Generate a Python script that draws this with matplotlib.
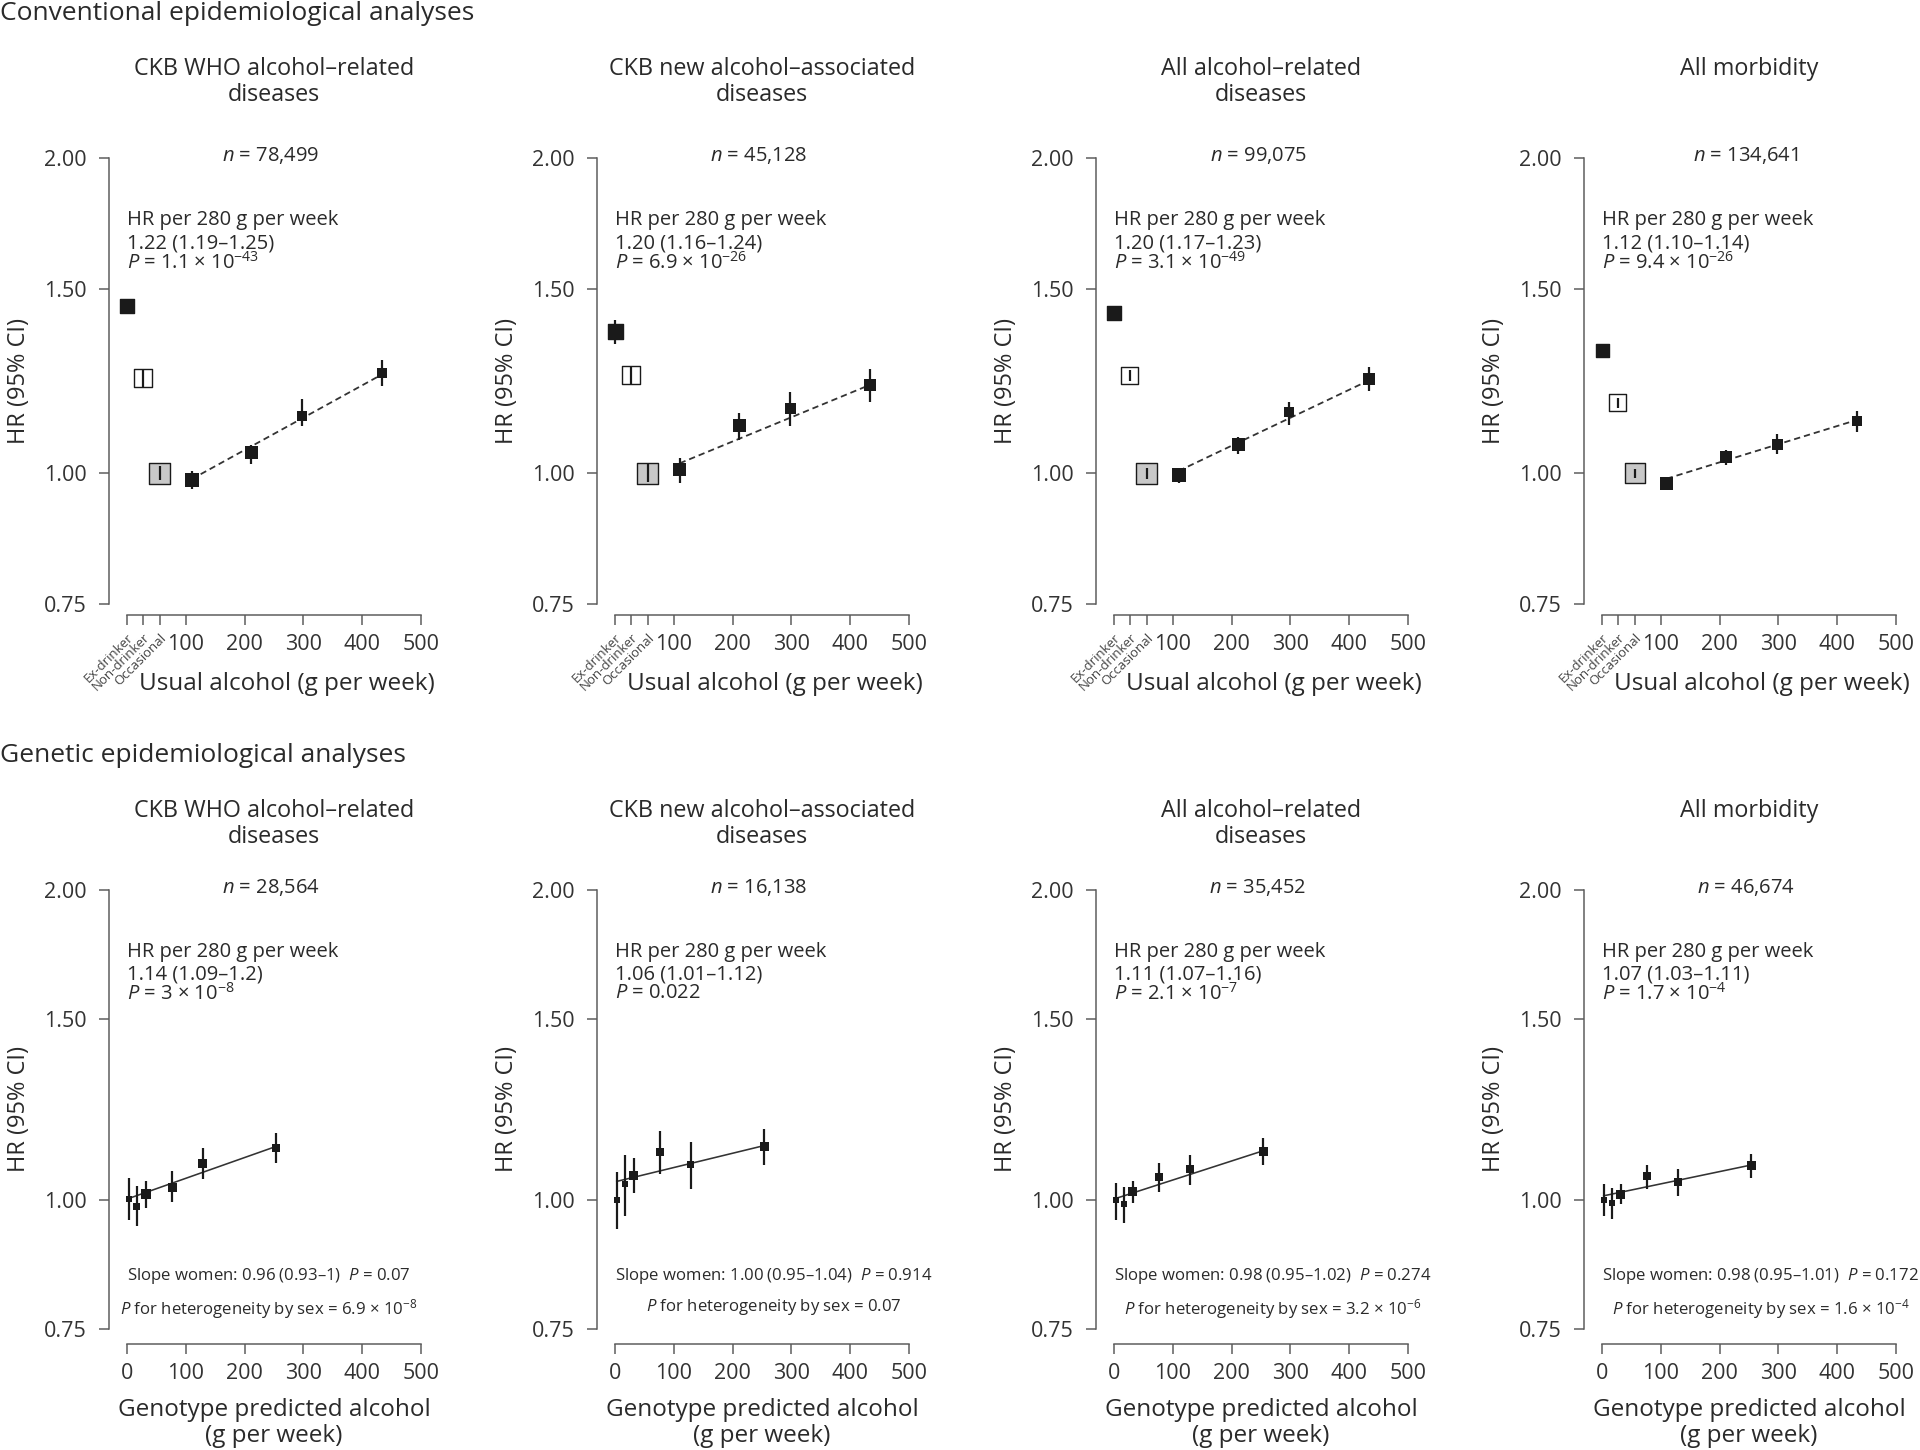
import numpy as np
import matplotlib
matplotlib.use('Agg')
import matplotlib.pyplot as plt
from matplotlib.path import Path
from matplotlib.ticker import NullLocator, NullFormatter, FixedLocator, FixedFormatter

FONT = 'Open Sans'
plt.rcParams['font.family'] = [FONT, 'DejaVu Sans']
plt.rcParams['mathtext.fontset'] = 'custom'
plt.rcParams['mathtext.rm'] = FONT
plt.rcParams['mathtext.it'] = FONT + ':italic'
plt.rcParams['axes.unicode_minus'] = True

# ---------------- data ----------------
titles = ["CKB WHO alcohol–related\ndiseases",
          "CKB new alcohol–associated\ndiseases",
          "All alcohol–related\ndiseases",
          "All morbidity"]

# conventional analyses
cat_pos = [0, 27, 56]
cat_labels = ['Ex-drinker', 'Non-drinker', 'Occasional']
conv_x = [110, 211, 298, 433]
conv_n = ["78,499", "45,128", "99,075", "134,641"]
conv_hr_txt = ["1.22 (1.19–1.25)", "1.20 (1.16–1.24)", "1.20 (1.17–1.23)", "1.12 (1.10–1.14)"]
conv_p_mant = ["1.1", "6.9", "3.1", "9.4"]
conv_p_exp = ["-43", "-26", "-49", "-26"]

cat_hr = [[1.444, 1.233, 1.00], [1.366, 1.241, 1.00], [1.423, 1.240, 1.00], [1.311, 1.168, 1.00]]
cat_lo = [[1.418, 1.205, 0.985], [1.330, 1.215, 0.980], [1.398, 1.225, 0.988], [1.289, 1.155, 0.990]]
cat_hi = [[1.467, 1.258, 1.015], [1.402, 1.265, 1.020], [1.445, 1.255, 1.012], [1.329, 1.180, 1.010]]

conv_hr = [[0.985, 1.046, 1.134, 1.247], [1.009, 1.110, 1.152, 1.213],
           [0.996, 1.066, 1.143, 1.231], [0.978, 1.037, 1.066, 1.122]]
conv_lo = [[0.965, 1.020, 1.110, 1.212], [0.979, 1.076, 1.110, 1.170],
           [0.978, 1.043, 1.113, 1.198], [0.965, 1.018, 1.043, 1.096]]
conv_hi = [[1.005, 1.065, 1.178, 1.283], [1.035, 1.141, 1.195, 1.258],
           [1.012, 1.084, 1.170, 1.264], [0.990, 1.052, 1.089, 1.146]]
conv_fit_start = [0.987, 1.022, 1.005, 0.988]
conv_fit_end = [1.242, 1.214, 1.226, 1.124]

# genetic analyses
gen_x = [3, 17, 32, 77, 129, 254]
gen_n = ["28,564", "16,138", "35,452", "46,674"]
gen_hr_txt = ["1.14 (1.09–1.2)", "1.06 (1.01–1.12)", "1.11 (1.07–1.16)", "1.07 (1.03–1.11)"]
gen_p_txt = [r"3 × 10$^{-8}$", "0.022", r"2.1 × 10$^{-7}$", r"1.7 × 10$^{-4}$"]
gen_hr = [[1.002, 0.987, 1.013, 1.030, 1.085, 1.125],
          [1.000, 1.036, 1.057, 1.114, 1.083, 1.127],
          [1.000, 0.991, 1.019, 1.053, 1.072, 1.115],
          [1.000, 0.994, 1.014, 1.055, 1.042, 1.080]]
gen_lo = [[0.956, 0.944, 0.982, 0.995, 1.048, 1.086],
          [0.938, 0.965, 1.016, 1.060, 1.026, 1.083],
          [0.957, 0.951, 0.993, 1.019, 1.035, 1.081],
          [0.965, 0.958, 0.991, 1.026, 1.009, 1.052]]
gen_hi = [[1.050, 1.032, 1.043, 1.067, 1.123, 1.162],
          [1.065, 1.106, 1.098, 1.168, 1.138, 1.173],
          [1.040, 1.031, 1.045, 1.086, 1.106, 1.149],
          [1.036, 1.028, 1.036, 1.083, 1.072, 1.110]]
gen_fit_start = [1.004, 1.043, 1.004, 1.010]
gen_fit_end = [1.128, 1.130, 1.117, 1.082]
slope_women = ["0.96 (0.93–1)", "1.00 (0.95–1.04)", "0.98 (0.95–1.02)", "0.98 (0.95–1.01)"]
slope_women_p = ["0.07", "0.914", "0.274", "0.172"]
het_p = [r"6.9 × 10$^{-8}$", "0.07", r"3.2 × 10$^{-6}$", r"1.6 × 10$^{-4}$"]

yticks = [0.75, 1.0, 1.5, 2.0]
ytick_labels = ["0.75", "1.00", "1.50", "2.00"]
xticks_top = [100, 200, 300, 400, 500]
xticks_bot = [0, 100, 200, 300, 400, 500]

# ---------------- styling (square marker sides in px) ----------------
cat_w = [[14, 18, 21], [15, 18, 21], [14, 17, 21], [13, 17, 20]]
conv_w = [[14, 13, 10, 10], [13, 13, 11, 12], [14, 13, 10, 12], [13, 12, 11, 10]]
gen_w = [[6, 7, 10, 9, 9, 8], [6, 6, 9, 8, 7, 9], [6, 6, 9, 8, 8, 9], [6, 6, 9, 8, 8, 9]]
cat_face = ['#1a1a1a', 'white', '#c8c8c8']

DPI = 100
PX = 72.0 / DPI  # points per pixel
TXT = '#2a2a2a'
AX = '#5a5a5a'
MK = '#1a1a1a'

square = Path([(-1, -1), (1, -1), (1, 1), (-1, 1), (-1, -1)],
              [Path.MOVETO, Path.LINETO, Path.LINETO, Path.LINETO, Path.CLOSEPOLY])

fig = plt.figure(figsize=(19.2, 14.5), dpi=DPI)
W, H = 1920.0, 1450.0
lefts_px = [127, 615, 1114, 1602]
width_px = 294
top_row = (158, 604)   # y px of 2.00 and 0.75
bot_row = (890, 1329)


def make_axes(i, row):
    y2, y075 = row
    return fig.add_axes([lefts_px[i] / W, 1 - y075 / H, width_px / W, (y075 - y2) / H])


def style(ax, bottom_off_px, xticks):
    ax.set_yscale('log')
    ax.set_xlim(0, 500)
    ax.set_ylim(0.75, 2.0)
    ax.patch.set_visible(False)
    for s in ['top', 'right']:
        ax.spines[s].set_visible(False)
    for s in ['left', 'bottom']:
        ax.spines[s].set_color(AX)
        ax.spines[s].set_linewidth(1.5 * PX)
    ax.spines['left'].set_position(('outward', 18 * PX))
    ax.spines['bottom'].set_position(('outward', bottom_off_px * PX))
    ax.spines['left'].set_bounds(0.75, 2.0)
    ax.spines['bottom'].set_bounds(0, 500)
    ax.yaxis.set_major_locator(FixedLocator(yticks))
    ax.yaxis.set_major_formatter(FixedFormatter(ytick_labels))
    ax.yaxis.set_minor_locator(NullLocator())
    ax.yaxis.set_minor_formatter(NullFormatter())
    ax.set_xticks(xticks)
    ax.set_xticklabels([str(v) for v in xticks])
    ax.tick_params(axis='both', which='both', length=10 * PX, width=1.5 * PX,
                   color=AX, labelcolor='#333333', labelsize=15.5, direction='out')
    ax.tick_params(axis='y', pad=12 * PX)
    ax.tick_params(axis='x', which='major', pad=9 * PX)


def hr_block(ax, hr_text, p_text, ys):
    tr = ax.get_xaxis_transform()
    ax.text(0, ys[0], "HR per 280 g per week", transform=tr,
            fontsize=14.5, color=TXT, ha='left', va='center_baseline')
    ax.text(0, ys[1], hr_text, transform=tr,
            fontsize=14.5, color=TXT, ha='left', va='center_baseline')
    ax.text(0, ys[2], r"$\it{P}$ = " + p_text, transform=tr,
            fontsize=14.5, color=TXT, ha='left', va='center_baseline')


# section headers
fig.text(0.0, 1 - 13 / H, "Conventional epidemiological analyses", fontsize=19,
         color=TXT, ha='left', va='center')
fig.text(0.0, 1 - 756 / H, "Genetic epidemiological analyses", fontsize=19,
         color=TXT, ha='left', va='center')

top_h = top_row[1] - top_row[0]
bot_h = bot_row[1] - bot_row[0]

# ---------------- conventional row ----------------
for i in range(4):
    ax = make_axes(i, top_row)
    style(ax, 11, xticks_top)
    ax.set_xticks(cat_pos, minor=True)
    ax.set_xticklabels(cat_labels, minor=True, rotation=45, ha='right',
                       rotation_mode='anchor', fontsize=9.5, color='#444444')
    ax.tick_params(axis='x', which='minor', pad=6 * PX)

    ax.set_ylabel("HR (95% CI)", fontsize=17, color=TXT, va='center')
    ax.yaxis.set_label_coords(-108 / width_px, 0.5)
    ax.set_xlabel("Usual alcohol (g per week)", fontsize=17.5, color=TXT, va='center')
    ax.xaxis.set_label_coords(0.545, -(684 - top_row[1]) / top_h)

    ax.text(0.5, 1 + (top_row[0] - 57) / top_h, titles[i], transform=ax.transAxes,
            fontsize=16.8, color=TXT, ha='center', va='top', linespacing=1.13)
    ax.text(0.49, 1 + 5 / top_h, r"$\it{n}$ = " + conv_n[i], transform=ax.transAxes,
            fontsize=14.5, color=TXT, ha='center', va='center_baseline')
    hr_block(ax, conv_hr_txt[i], conv_p_mant[i] + r" × 10$^{" + conv_p_exp[i] + "}$",
             [1 - 60 / top_h, 1 - 83 / top_h, 1 - 102 / top_h])

    # categorical groups
    ax.scatter(cat_pos, cat_hr[i], s=(np.array(cat_w[i]) * PX) ** 2, marker=square,
               c=cat_face, edgecolors=MK, linewidths=1.4 * PX, zorder=3, clip_on=False)
    ax.vlines(cat_pos, cat_lo[i], cat_hi[i], colors=MK, lw=2.2 * PX, zorder=4, clip_on=False)
    # continuous groups
    ax.plot([conv_x[0], conv_x[-1]], [conv_fit_start[i], conv_fit_end[i]],
            ls=(0, (3.5, 2.2)), color='#333333', lw=1.8 * PX, zorder=2)
    ax.scatter(conv_x, conv_hr[i], s=(np.array(conv_w[i]) * PX) ** 2, marker=square,
               c=MK, edgecolors=MK, linewidths=0, zorder=3, clip_on=False)
    ax.vlines(conv_x, conv_lo[i], conv_hi[i], colors=MK, lw=2.2 * PX, zorder=4)

# ---------------- genetic row ----------------
for i in range(4):
    ax = make_axes(i, bot_row)
    style(ax, 15, xticks_bot)
    ax.set_ylabel("HR (95% CI)", fontsize=17, color=TXT, va='center')
    ax.yaxis.set_label_coords(-108 / width_px, 0.5)
    ax.set_xlabel("Genotype predicted alcohol\n(g per week)", fontsize=17.5, color=TXT,
                  va='center', linespacing=1.15)
    ax.xaxis.set_label_coords(0.5, -(1423 - bot_row[1]) / bot_h)

    ax.text(0.5, 1 + (bot_row[0] - 799) / bot_h, titles[i], transform=ax.transAxes,
            fontsize=16.8, color=TXT, ha='center', va='top', linespacing=1.13)
    ax.text(0.49, 1 + 5 / bot_h, r"$\it{n}$ = " + gen_n[i], transform=ax.transAxes,
            fontsize=14.5, color=TXT, ha='center', va='center_baseline')
    hr_block(ax, gen_hr_txt[i], gen_p_txt[i],
             [1 - 59 / bot_h, 1 - 82 / bot_h, 1 - 101 / bot_h])

    st = ax.text(0, 56 / bot_h, "Slope women: " + slope_women[i] + r"  $\it{P}$ = " + slope_women_p[i],
                 transform=ax.get_xaxis_transform(), fontsize=12.1, color=TXT,
                 ha='left', va='center_baseline')
    ax.annotate(r"$\it{P}$ for heterogeneity by sex = " + het_p[i], xy=(0.5, 0), xycoords=st,
                xytext=(0, -11 * PX), textcoords='offset points', fontsize=12.1, color=TXT,
                ha='center', va='top')

    ax.plot([gen_x[0], gen_x[-1]], [gen_fit_start[i], gen_fit_end[i]],
            ls='-', color='#333333', lw=1.6 * PX, zorder=2)
    ax.scatter(gen_x, gen_hr[i], s=(np.array(gen_w[i]) * PX) ** 2, marker=square,
               c=MK, edgecolors=MK, linewidths=0, zorder=3, clip_on=False)
    ax.vlines(gen_x, gen_lo[i], gen_hi[i], colors=MK, lw=2.2 * PX, zorder=4, clip_on=False)

fig.savefig('out.png', dpi=DPI, facecolor='white')
